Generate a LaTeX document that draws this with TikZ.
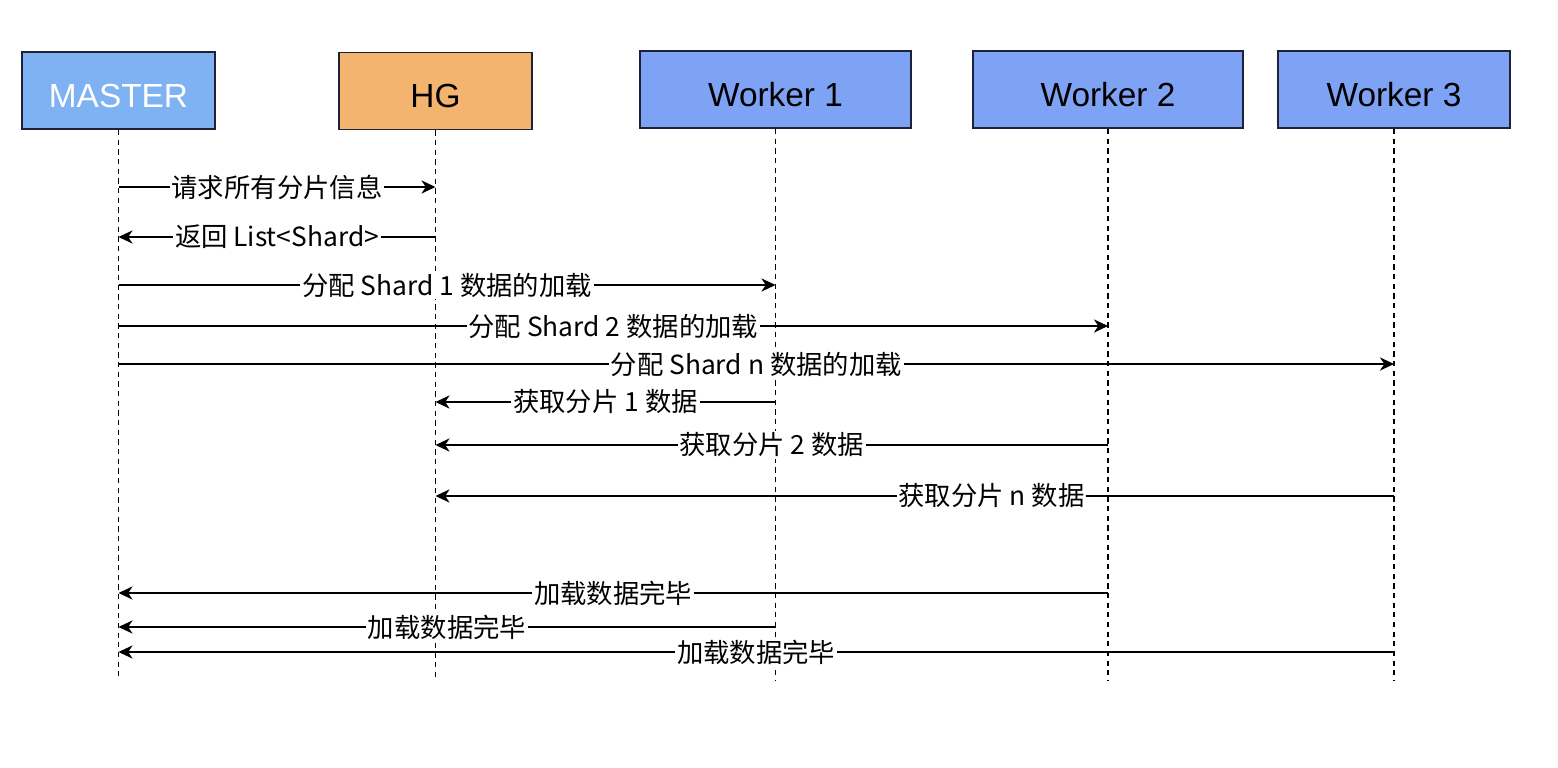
\documentclass[tikz,border=0pt]{standalone}
\usepackage{fontspec}
\setmainfont{Liberation Sans}
\newfontfamily\cjk{Noto Sans CJK SC}
\usetikzlibrary{arrows.meta}
\definecolor{masterblue}{HTML}{7FB2F2}
\definecolor{workerblue}{HTML}{7EA2F4}
\definecolor{hgorange}{HTML}{F2B46E}
\definecolor{boxline}{HTML}{1E2238}
\tikzset{
  actor/.style={draw=boxline, line width=1.1pt, minimum height=1.54cm, inner sep=0pt,
    text height=19pt, text depth=0pt, font=\fontsize{19}{22}\selectfont},
  life/.style={dash pattern=on 3pt off 2.5pt, line width=0.6pt},
  msg/.style={-{Stealth[length=8pt,width=7.5pt,inset=2.5pt]}, line width=0.85pt},
  lbl/.style={fill=white, inner sep=1pt, font=\fontsize{15}{17}\selectfont\cjk}
}
\begin{document}
\begin{tikzpicture}
      \useasboundingbox (0,0) rectangle (31.16,-15.36);
      \draw
        (2.37,-1.81) node[actor, fill=masterblue, text=white, minimum width=3.86cm] (master){MASTER}
        (8.71,-1.82) node[actor, fill=hgorange, minimum width=3.86cm] (hg){HG}
        (15.51,-1.79) node[actor, fill=workerblue, minimum width=5.42cm] (w1){Worker 1}
        (22.16,-1.79) node[actor, fill=workerblue, minimum width=5.40cm] (w2){Worker 2}
        (27.88,-1.79) node[actor, fill=workerblue, minimum width=4.64cm] (w3){Worker 3};
      \begin{scope}[life]
        \draw (master.south) -- (master |- 0,-13.6);
        \draw (hg.south) -- (hg |- 0,-13.6);
        \draw (w1.south) -- (w1 |- 0,-13.6);
        \draw (w2.south) -- (w2 |- 0,-13.6);
        \draw (w3.south) -- (w3 |- 0,-13.6);
      \end{scope}
      \begin{scope}[msg]
        \draw (master |- 0,-3.74) -- node[lbl]{请求所有分片信息} (hg |- 0,-3.74);
        \draw (hg |- 0,-4.74) -- node[lbl]{返回 List<Shard>} (master |- 0,-4.74);
        \draw (master |- 0,-5.70) -- node[lbl]{分配 Shard 1 数据的加载} (w1 |- 0,-5.70);
        \draw (master |- 0,-6.52) -- node[lbl]{分配 Shard 2 数据的加载} (w2 |- 0,-6.52);
        \draw (master |- 0,-7.28) -- node[lbl]{分配 Shard n 数据的加载} (w3 |- 0,-7.28);
        \draw (w1 |- 0,-8.04) -- node[lbl]{获取分片 1 数据} (hg |- 0,-8.04);
        \draw (w2 |- 0,-8.90) -- node[lbl]{获取分片 2 数据} (hg |- 0,-8.90);
        \draw (w3 |- 0,-9.92) -- node[lbl, pos=0.42]{获取分片 n 数据} (hg |- 0,-9.92);
        \draw (w2 |- 0,-11.86) -- node[lbl]{加载数据完毕} (master |- 0,-11.86);
        \draw (w1 |- 0,-12.54) -- node[lbl]{加载数据完毕} (master |- 0,-12.54);
        \draw (w3 |- 0,-13.04) -- node[lbl]{加载数据完毕} (master |- 0,-13.04);
      \end{scope}
    \end{tikzpicture}
\end{document}
